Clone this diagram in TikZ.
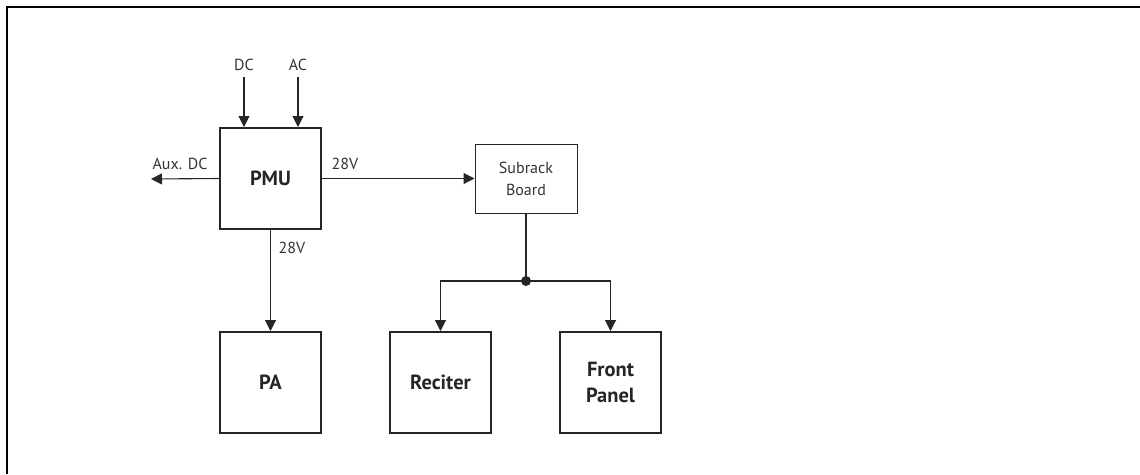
\documentclass[tikz,border=0pt]{standalone}
\usepackage{fontspec}
\setmainfont{PT Sans}
\usetikzlibrary{arrows.meta}
\begin{document}
\begin{tikzpicture}[x=1pt,y=-1pt,
  bigbox/.style={draw=black!85,line width=2pt,minimum width=101pt,minimum height=101pt,inner sep=0pt,font=\fontsize{20.5}{26}\selectfont\bfseries,align=center,text=black!85},
  smallbox/.style={draw=black!85,line width=1pt,minimum width=102pt,minimum height=69pt,inner sep=0pt,font=\fontsize{16}{22}\selectfont,align=center,text=black!80},
  conn/.style={draw=black!85,line width=1.1pt,-{Triangle[length=11pt,width=11pt]}},
  plain/.style={draw=black!85,line width=1.1pt},
  lbl/.style={font=\fontsize{16}{18}\selectfont,text=black!80,inner sep=0pt}]
\useasboundingbox (0,0) rectangle (1140,474);
\draw[line width=2.3pt] (7,474) -- (7,7) -- (1140,7);
% boxes
\node[bigbox] (pmu) at (270.5,178.5) {PMU};
\node[bigbox] (pa) at (270.5,382.5) {PA};
\node[bigbox] (rec) at (440.5,382.5) {Reciter};
\node[bigbox] (fp) at (610.5,382.5) {Front\\Panel};
\node[smallbox] (sub) at (526,178.5) {Subrack\\Board};
% inputs
\node[lbl] (dc) at (244,65) {DC};
\node[lbl] (ac) at (298,65) {AC};
\coordinate (dcs) at (244,77);
\coordinate (acs) at (298,77);
\draw[conn] (dcs) -- (dcs |- pmu.north);
\draw[conn] (acs) -- (acs |- pmu.north);
% aux
\coordinate (aux) at (151,179);
\draw[conn] (pmu.west) -- (aux);
\node[lbl] (auxl) at (180,164) {Aux. DC};
% 28V to subrack
\draw[conn] (pmu.east) -- (sub.west);
\node[lbl] (v1) at (345,164) {28V};
% 28V to PA
\draw[conn] (pmu.south) -- (pa.north);
\node[lbl] (v2) at (292,248) {28V};
% junction
\coordinate (j) at (526,281);
\draw[plain] (sub.south) -- (j);
\fill[black!85] (j) circle (5pt);
\draw[conn] (j) -| (rec.north);
\draw[conn] (j) -| (fp.north);
\end{tikzpicture}
\end{document}
